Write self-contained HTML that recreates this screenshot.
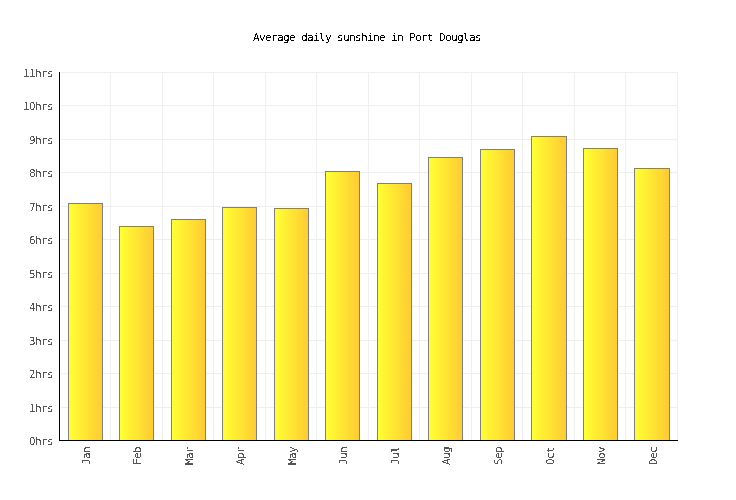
<!DOCTYPE html>
<html lang="en">
<head>
<meta charset="utf-8">
<title>Average daily sunshine in Port Douglas</title>
<style>
html,body{margin:0;padding:0;background:#fff;}
body{width:736px;height:500px;position:relative;overflow:hidden;}
#chart,#labels{position:absolute;left:0;top:0;width:736px;height:500px;}
#chart{background:#fff;}
#labels{filter:url(#crisp);font-family:"DejaVu Sans Mono","Liberation Mono",monospace;font-size:11px;line-height:14px;}
#chart div,#labels div{position:absolute;}
#labels div{white-space:nowrap;height:14px;transform-origin:0 0;letter-spacing:-0.62256px;}
#labels .title{color:#000;}
#labels .yl{color:#555555;}
#labels .n{font-family:"DejaVu Sans Condensed","DejaVu Sans","Liberation Sans",sans-serif;letter-spacing:-0.29492px;}
#labels .u{position:relative;left:-0.25px;}
#labels .xl{color:#555555;transform:rotate(-90deg);}
.hg{left:61px;width:617px;height:1px;background:#efefef;}
.vg{top:72px;width:1px;height:368px;background:#efefef;}
.bar{box-sizing:border-box;border:1px solid #808080;border-bottom:none;background:linear-gradient(to right,#ffff33 0px 1px,#fffd33 1px 2px,#fffc33 2px 3px,#fffa33 3px 4px,#fff933 4px 5px,#fff733 5px 6px,#fff533 6px 7px,#fff433 7px 8px,#fff233 8px 9px,#fff133 9px 10px,#ffef33 10px 11px,#ffed33 11px 12px,#ffec33 12px 13px,#ffea33 13px 14px,#ffe933 14px 15px,#ffe733 15px 16px,#ffe633 16px 17px,#ffe433 17px 18px,#ffe233 18px 19px,#ffe133 19px 20px,#ffdf33 20px 21px,#ffde33 21px 22px,#ffdc33 22px 23px,#ffda33 23px 24px,#ffd933 24px 25px,#ffd733 25px 26px,#ffd633 26px 27px,#ffd433 27px 28px,#ffd233 28px 29px,#ffd133 29px 30px,#ffcf33 30px 31px,#ffce33 31px 32px,#ffcc33 32px 33px);}
.axy{left:59px;top:72px;width:1px;height:369px;background:#000;}
.axx{left:59px;top:440px;width:619px;height:1px;background:#000;}
</style>
</head>
<body>
<svg width="0" height="0" style="position:absolute" aria-hidden="true"><filter id="crisp" x="0" y="0" width="100%" height="100%" color-interpolation-filters="sRGB"><feComponentTransfer><feFuncA type="discrete" tableValues="0 1"/></feComponentTransfer></filter></svg>
<div id="chart">
<div class="hg" style="top:72px"></div>
<div class="hg" style="top:105px"></div>
<div class="hg" style="top:139px"></div>
<div class="hg" style="top:172px"></div>
<div class="hg" style="top:206px"></div>
<div class="hg" style="top:239px"></div>
<div class="hg" style="top:273px"></div>
<div class="hg" style="top:306px"></div>
<div class="hg" style="top:340px"></div>
<div class="hg" style="top:373px"></div>
<div class="hg" style="top:407px"></div>
<div class="vg" style="left:110px"></div>
<div class="vg" style="left:162px"></div>
<div class="vg" style="left:213px"></div>
<div class="vg" style="left:265px"></div>
<div class="vg" style="left:316px"></div>
<div class="vg" style="left:368px"></div>
<div class="vg" style="left:419px"></div>
<div class="vg" style="left:471px"></div>
<div class="vg" style="left:522px"></div>
<div class="vg" style="left:574px"></div>
<div class="vg" style="left:625px"></div>
<div class="vg" style="left:677px"></div>
<div class="bar" style="left:68px;top:203px;width:35px;height:237px"></div>
<div class="bar" style="left:119px;top:226px;width:35px;height:214px"></div>
<div class="bar" style="left:171px;top:219px;width:35px;height:221px"></div>
<div class="bar" style="left:222px;top:207px;width:35px;height:233px"></div>
<div class="bar" style="left:274px;top:208px;width:35px;height:232px"></div>
<div class="bar" style="left:325px;top:171px;width:35px;height:269px"></div>
<div class="bar" style="left:377px;top:183px;width:35px;height:257px"></div>
<div class="bar" style="left:428px;top:157px;width:35px;height:283px"></div>
<div class="bar" style="left:480px;top:149px;width:35px;height:291px"></div>
<div class="bar" style="left:531px;top:136px;width:36px;height:304px"></div>
<div class="bar" style="left:583px;top:148px;width:35px;height:292px"></div>
<div class="bar" style="left:634px;top:168px;width:36px;height:272px"></div>
<div class="axy"></div>
<div class="axx"></div>
</div>
<div id="labels">
<div class="title" style="left:253px;top:31px">Average daily sunshine in Port Douglas</div>
<div class="yl" style="left:29.25px;top:435px"><span class="n">0</span><span class="u">hrs</span></div>
<div class="yl" style="left:29.25px;top:402px"><span class="n">1</span><span class="u">hrs</span></div>
<div class="yl" style="left:29.25px;top:368px"><span class="n">2</span><span class="u">hrs</span></div>
<div class="yl" style="left:29.25px;top:335px"><span class="n">3</span><span class="u">hrs</span></div>
<div class="yl" style="left:29.25px;top:301px"><span class="n">4</span><span class="u">hrs</span></div>
<div class="yl" style="left:29.25px;top:268px"><span class="n">5</span><span class="u">hrs</span></div>
<div class="yl" style="left:29.25px;top:234px"><span class="n">6</span><span class="u">hrs</span></div>
<div class="yl" style="left:29.25px;top:201px"><span class="n">7</span><span class="u">hrs</span></div>
<div class="yl" style="left:29.25px;top:167px"><span class="n">8</span><span class="u">hrs</span></div>
<div class="yl" style="left:29.25px;top:134px"><span class="n">9</span><span class="u">hrs</span></div>
<div class="yl" style="left:23.25px;top:100px"><span class="n">10</span><span class="u">hrs</span></div>
<div class="yl" style="left:23.25px;top:67px"><span class="n">11</span><span class="u">hrs</span></div>
<div class="xl" style="left:80px;top:465px">Jan</div>
<div class="xl" style="left:131px;top:465px">Feb</div>
<div class="xl" style="left:183px;top:465px">Mar</div>
<div class="xl" style="left:234px;top:465px">Apr</div>
<div class="xl" style="left:286px;top:465px">May</div>
<div class="xl" style="left:337px;top:465px">Jun</div>
<div class="xl" style="left:389px;top:465px">Jul</div>
<div class="xl" style="left:440px;top:465px">Aug</div>
<div class="xl" style="left:492px;top:465px">Sep</div>
<div class="xl" style="left:544px;top:465px">Oct</div>
<div class="xl" style="left:595px;top:465px">Nov</div>
<div class="xl" style="left:647px;top:465px">Dec</div>
</div>
</body>
</html>
